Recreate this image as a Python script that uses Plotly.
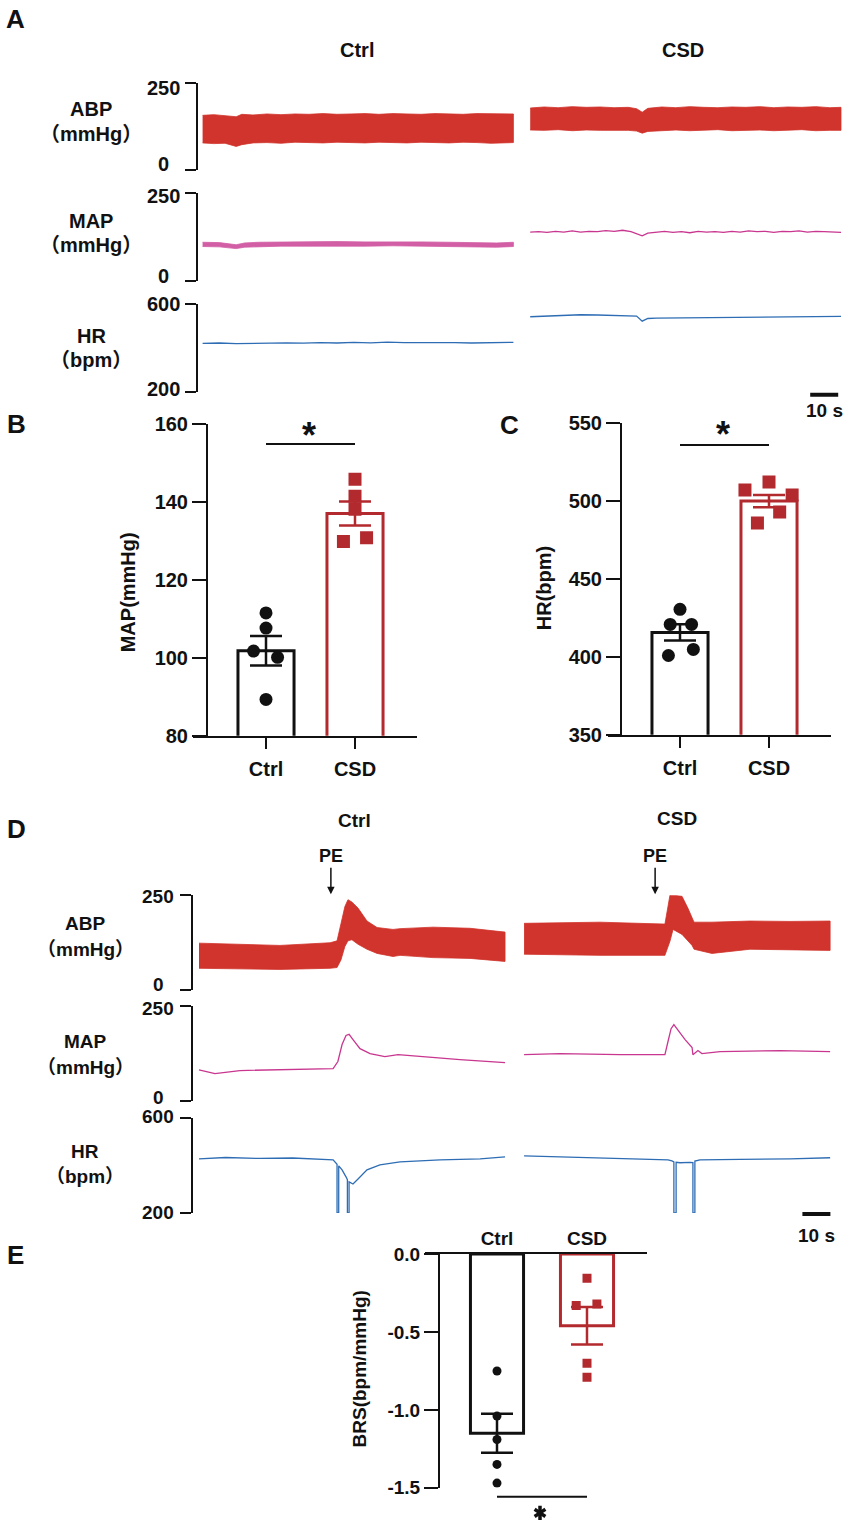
import plotly.graph_objects as go

# ---------------- data ----------------
# Panel A: resting recordings. Time in s, ABP / MAP in mmHg, HR in bpm.
# ABP is drawn as the envelope (systolic / diastolic) of the pulsatile trace.
A_ABP_CTRL_T = [2, 6, 10, 14, 16, 20, 25, 30, 35, 40, 45, 50, 55, 60, 65, 70, 75, 80, 85, 90, 95, 100, 105, 110, 113]
A_ABP_CTRL_HI = [157, 159, 156, 153, 160, 158, 161, 159, 161, 160, 162, 160, 161, 162, 160, 162, 161, 160, 162, 161, 160, 162, 161, 160, 161]
A_ABP_CTRL_LO = [78, 76, 77, 68, 73, 78, 79, 77, 80, 79, 78, 80, 79, 78, 80, 79, 78, 80, 79, 78, 80, 79, 77, 78, 79]
A_ABP_CSD_T = [119, 124, 129, 134, 139, 144, 149, 154, 157, 159, 161, 166, 171, 176, 181, 186, 191, 196, 201, 206, 211, 216, 221, 226, 230]
A_ABP_CSD_HI = [178, 181, 179, 182, 180, 181, 179, 180, 176, 166, 177, 181, 179, 182, 180, 179, 181, 180, 182, 179, 181, 180, 182, 179, 180]
A_ABP_CSD_LO = [115, 114, 116, 113, 115, 114, 113, 114, 112, 106, 111, 114, 115, 113, 114, 116, 113, 114, 115, 113, 114, 116, 113, 114, 114]

A_MAP_CTRL_T = [2, 8, 14, 17, 22, 30, 40, 50, 60, 70, 80, 90, 100, 107, 113]
A_MAP_CTRL_HI = [111, 110, 104, 109, 111, 112, 112, 113, 112, 113, 112, 111, 110, 109, 111]
A_MAP_CTRL_LO = [99, 98, 93, 97, 99, 100, 100, 101, 100, 101, 100, 99, 98, 97, 99]
A_MAP_CSD_T = [119, 122, 125, 128, 131, 134, 137, 140, 143, 146, 149, 152, 155, 157, 159,
               161, 164, 167, 170, 173, 176, 179, 182, 185, 188, 191, 194, 197, 200, 203,
               206, 209, 212, 215, 218, 221, 224, 227, 230]
A_MAP_CSD = [140, 141, 139, 142, 140, 143, 140, 142, 141, 144, 142, 145, 141, 136, 129,
             137, 140, 142, 139, 141, 138, 142, 140, 141, 139, 142, 140, 143, 141, 142,
             139, 142, 141, 143, 140, 142, 141, 140, 139]

A_HR_CTRL_T = [2, 8, 14, 20, 26, 32, 38, 44, 50, 56, 62, 68, 74, 80, 86, 92, 98, 104, 110, 113]
A_HR_CTRL = [419, 421, 418, 420, 419, 422, 420, 423, 421, 424, 422, 425, 423, 424, 422, 423, 421, 422, 423, 424]
A_HR_CSD_T = [119, 125, 131, 137, 143, 149, 154, 157, 159, 161, 164, 170, 176, 182, 188,
              194, 200, 206, 212, 218, 224, 230]
A_HR_CSD = [540, 544, 548, 549, 548, 547, 546, 543, 520, 532, 534, 535, 536, 537, 538,
            538, 539, 540, 541, 541, 542, 542]

# Panel D: phenylephrine (PE) challenge
D_PE_T = [49.6, 165.4]
D_ABP_CTRL_T = [2.5, 31.4, 49.3, 51.8, 53.2, 54.6, 55.7, 57.1, 59.3, 62.5, 66.1, 71.8, 74.3, 86.1, 99.3, 111.8]
D_ABP_CTRL_HI = [124, 118, 125, 130, 175, 220, 238, 232, 216, 182, 165, 160, 162, 166, 163, 153]
D_ABP_CTRL_LO = [58, 55, 58, 60, 80, 115, 130, 133, 121, 108, 97, 89, 92, 86, 84, 76]
D_ABP_CSD_T = [118.6, 145.7, 168.9, 170.7, 171.8, 175.0, 177.1, 178.6, 179.3, 185.7, 199.3, 213.6, 227.9]
D_ABP_CSD_HI = [176, 179, 174, 250, 250, 247, 216, 189, 179, 179, 182, 181, 182]
D_ABP_CSD_LO = [95, 92, 92, 129, 160, 147, 129, 118, 108, 97, 108, 106, 105]

D_MAP_CTRL_T = [2.5, 8.2, 17.1, 28.0, 38.6, 50.4, 52.1, 53.6, 55.0, 56.1, 57.5, 60.0, 63.6,
                68.9, 73.6, 81.4, 95.7, 111.8]
D_MAP_CTRL = [82, 72, 80, 81, 82, 85, 104, 149, 173, 176, 162, 138, 125, 117, 122, 117, 109, 101]
D_MAP_CSD_T = [118.6, 131.4, 152.9, 168.9, 170.0, 171.1, 172.1, 173.2, 176.1, 178.6, 178.9,
               180.7, 182.1, 188.6, 210.0, 227.9]
D_MAP_CSD = [122, 125, 122, 122, 157, 191, 202, 191, 162, 141, 122, 133, 125, 130, 133, 130]

D_HR_CTRL_T = [2.5, 12.0, 24.3, 36.0, 50.4, 51.4, 51.8, 51.8, 52.4, 52.4, 53.6, 55.0, 55.5,
               55.5, 56.1, 56.1, 57.5, 59.3, 62.5, 67.1, 74.3, 88.6, 102.9, 111.8]
D_HR_CTRL = [427, 433, 429, 431, 423, 410, 405, 200, 200, 398, 381, 352, 340,
             200, 200, 331, 322, 343, 381, 402, 415, 423, 427, 436]
D_HR_CSD_T = [118.6, 131.4, 145.7, 160.0, 170.0, 171.4, 172.1, 172.1, 172.9, 172.9, 174.3,
              177.9, 178.9, 178.9, 179.6, 179.6, 181.4, 195.7, 213.6, 227.9]
D_HR_CSD = [440, 436, 432, 425, 423, 419, 415, 200, 200, 413, 411, 413, 412, 200, 200,
            418, 423, 425, 427, 432]

# Panels B, C, E: mean, SEM and individual animals
GROUPS = ["Ctrl", "CSD"]
B_MAP_MEAN = [101.8, 137.0]
B_MAP_SEM = [3.8, 3.05]
B_MAP_CTRL = [111.5, 107.6, 101.7, 100.1, 89.3]
B_MAP_CSD = [145.8, 141.4, 138.1, 129.8, 130.8]
C_HR_MEAN = [415.6, 499.8]
C_HR_SEM = [5.2, 3.9]
C_HR_CTRL = [430.4, 420.7, 420.7, 400.8, 404.7]
C_HR_CSD = [506.9, 512.0, 503.7, 492.8, 485.7]
E_BRS_MEAN = [-1.15, -0.46]
E_BRS_SEM = [0.125, 0.12]
E_BRS_CTRL = [-0.75, -1.04, -1.19, -1.35, -1.47]
E_BRS_CSD = [-0.155, -0.33, -0.32, -0.70, -0.79]

# horizontal scatter of the dots (fraction of category spacing)
B_DX = [[0, 0, -0.14, 0.13, 0], [0, 0, 0, -0.13, 0.13]]
C_DX = [[0, -0.11, 0.13, -0.13, 0.15], [-0.27, 0, 0.26, 0.12, -0.13]]
E_DX = [[0, 0, 0, 0, 0], [0, -0.12, 0.11, 0, 0]]

# ---------------- style ----------------
W, H = 851, 1540
RED = "#D0342C"
DARKRED = "#B2292E"
PINK = "#C8368F"
BLUE = "#2E6DB4"
BLACK = "#111111"
FONT = "Liberation Sans, Arial, Noto Sans CJK SC, sans-serif"
NARROW = "Liberation Sans Narrow, Arial Narrow, Liberation Sans, sans-serif"
PX_PER_S = 2.8
RIGHT = 845
# the photographed page comes out slightly squeezed vertically; positions below are
# measured on the reference and mapped back to figure pixels
Y_OFF, Y_SCALE = 12.3, 0.983


def xp(x):
    return x / W


def yp(y):
    return 1 - ((y - Y_OFF) / Y_SCALE) / H


def ref(n):
    return ("x", "y") if n == 1 else (f"x{n}", f"y{n}")


def key(n):
    return ("xaxis", "yaxis") if n == 1 else (f"xaxis{n}", f"yaxis{n}")


fig = go.Figure()
layout = {}
annotations = []
shapes = []


def text(x, y, s, size, family=FONT, angle=0, xref="paper", yref="paper", yshift=0):
    annotations.append(dict(x=x, y=y, xref=xref, yref=yref, text=s, showarrow=False,
                            textangle=angle, xanchor="center", yanchor="middle", yshift=yshift,
                            font=dict(family=family, size=size, color=BLACK, weight="bold")))


def trace_row(n, x0, top, bottom, rng, size, label_x, shifts):
    kx, ky = key(n)
    rx, ry = ref(n)
    layout[kx] = dict(domain=[xp(x0), xp(RIGHT)], range=[0, (RIGHT - x0) / PX_PER_S],
                      visible=False, anchor=ry)
    layout[ky] = dict(domain=[yp(bottom), yp(top)], range=rng, anchor="free", position=xp(x0),
                      showline=True, linecolor=BLACK, linewidth=2, ticks="outside", ticklen=11,
                      tickwidth=2, tickcolor=BLACK, tickvals=rng, showticklabels=False,
                      showgrid=False, zeroline=False)
    # tick labels are centred on a common column, nudged inward like the original
    for v, sh in zip(rng, shifts):
        text(xp(label_x), v, str(v), size, yref=ry, yshift=sh)


def band(n, t, hi, lo, color, opacity=1.0):
    rx, ry = ref(n)
    fig.add_trace(go.Scatter(x=t + t[::-1], y=hi + lo[::-1], fill="toself", fillcolor=color,
                             opacity=opacity, line=dict(color=color, width=0.8), mode="lines",
                             xaxis=rx, yaxis=ry, hoverinfo="skip"))


def line(n, t, v, color, width=1.3):
    rx, ry = ref(n)
    fig.add_trace(go.Scatter(x=t, y=v, mode="lines", line=dict(color=color, width=width),
                             xaxis=rx, yaxis=ry, hoverinfo="skip"))


# ---- Panel A ----
trace_row(1, 197, 84, 171, [0, 250], 20, 163, [6, -5])
trace_row(2, 197, 194, 282, [0, 250], 20, 163, [5, -3])
trace_row(3, 197, 304, 392, [200, 600], 20, 163, [3, 0])
band(1, A_ABP_CTRL_T, A_ABP_CTRL_HI, A_ABP_CTRL_LO, RED)
band(1, A_ABP_CSD_T, A_ABP_CSD_HI, A_ABP_CSD_LO, RED)
band(2, A_MAP_CTRL_T, A_MAP_CTRL_HI, A_MAP_CTRL_LO, PINK, 0.8)
line(2, A_MAP_CSD_T, A_MAP_CSD, PINK)
line(3, A_HR_CTRL_T, A_HR_CTRL, BLUE)
line(3, A_HR_CSD_T, A_HR_CSD, BLUE)

# ---- Panel D ----
trace_row(4, 192, 894, 989, [0, 250], 19, 158, [6, -1])
trace_row(5, 192, 1005, 1099, [0, 250], 19, 158, [3, -2])
trace_row(6, 192, 1116, 1211, [200, 600], 19, 158, [1, 1])
band(4, D_ABP_CTRL_T, D_ABP_CTRL_HI, D_ABP_CTRL_LO, RED)
band(4, D_ABP_CSD_T, D_ABP_CSD_HI, D_ABP_CSD_LO, RED)
line(5, D_MAP_CTRL_T, D_MAP_CTRL, PINK)
line(5, D_MAP_CSD_T, D_MAP_CSD, PINK)
line(6, D_HR_CTRL_T, D_HR_CTRL, BLUE)
line(6, D_HR_CSD_T, D_HR_CSD, BLUE)


# ---- bar panels ----
def bar_panel(n, xdom, yaxis_x, top, bottom, rng, tickvals, means, sems, ctrl, csd, dx,
              ticktext=None, side="bottom", msize=13, ebw=16, barw=0.63, size=20):
    kx, ky = key(n)
    rx, ry = ref(n)
    layout[kx] = dict(domain=[xp(xdom[0]), xp(xdom[1])], range=[-xdom[2], xdom[3]],
                      anchor=ry, side=side, showline=True, linecolor=BLACK, linewidth=2,
                      ticks="outside" if side == "bottom" else "", ticklen=11, tickwidth=2,
                      tickcolor=BLACK, tickvals=[0, 1], ticktext=GROUPS, showgrid=False,
                      zeroline=False, ticklabelstandoff=3 if side == "bottom" else 0,
                      tickfont=dict(family=FONT, size=size, color=BLACK, weight="bold"))
    layout[ky] = dict(domain=[yp(bottom), yp(top)], range=rng, anchor="free",
                      position=xp(yaxis_x), showline=True, linecolor=BLACK, linewidth=2,
                      ticks="outside", ticklen=14, tickwidth=2, tickcolor=BLACK,
                      tickvals=tickvals, ticktext=ticktext, showgrid=False, zeroline=False,
                      tickfont=dict(family=FONT, size=size, color=BLACK, weight="bold"))
    colors = [BLACK, DARKRED]
    for i, col in enumerate(colors):
        fig.add_trace(go.Bar(x=[i], y=[means[i]], width=barw, xaxis=rx, yaxis=ry,
                             marker=dict(color="white", line=dict(color=col, width=3)),
                             error_y=dict(type="data", array=[sems[i]], color=col,
                                          thickness=2.5, width=ebw),
                             hoverinfo="skip"))
    fig.add_trace(go.Scatter(x=list(dx[0]), y=ctrl, mode="markers", xaxis=rx, yaxis=ry,
                             marker=dict(symbol="circle", size=msize, color=BLACK),
                             hoverinfo="skip"))
    fig.add_trace(go.Scatter(x=[1 + d for d in dx[1]], y=csd, mode="markers", xaxis=rx,
                             yaxis=ry, marker=dict(symbol="square", size=msize, color=DARKRED),
                             hoverinfo="skip"))


# B: Ctrl at x=266, CSD at 355 (89 px apart)
bar_panel(7, [193, 417, (266 - 193) / 89, 1 + (417 - 355) / 89], 207, 424, 735, [80, 160],
          [80, 100, 120, 140, 160], B_MAP_MEAN, B_MAP_SEM, B_MAP_CTRL, B_MAP_CSD, B_DX)
# C: Ctrl at x=680, CSD at 769
bar_panel(8, [608, 831, (680 - 608) / 89, 1 + (831 - 769) / 89], 621, 423, 734, [350, 550],
          [350, 400, 450, 500, 550], C_HR_MEAN, C_HR_SEM, C_HR_CTRL, C_HR_CSD, C_DX)
# E: Ctrl at x=497, CSD at 587
bar_panel(9, [425, 647, (497 - 425) / 90, 1 + (647 - 587) / 90], 439, 1252, 1485, [-1.5, 0],
          [-1.5, -1.0, -0.5, 0.0], E_BRS_MEAN, E_BRS_SEM, E_BRS_CTRL, E_BRS_CSD, E_DX,
          ticktext=["-1.5", "-1.0", "-0.5", "0.0"], side="top", msize=9, barw=0.59, size=19)

# ---- labels ----
for s, x, y in [("A", 15, 20), ("B", 16, 424), ("C", 510, 425), ("D", 16, 828), ("E", 15, 1253)]:
    text(xp(x), yp(y), s, 26)
for s, x, y in [("Ctrl", 357, 51), ("CSD", 683, 51)]:
    text(xp(x), yp(y), s, 20)
for s, x, y in [("Ctrl", 354, 820), ("CSD", 677, 818)]:
    text(xp(x), yp(y), s, 19)
row_labels = [("ABP", "（mmHg）", 91, 110, 135, 20), ("MAP", "（mmHg）", 91, 222, 246, 20),
              ("HR", "（bpm）", 91, 336, 360, 20), ("ABP", "（mmHg）", 85, 922, 948, 19),
              ("MAP", "（mmHg）", 85, 1040, 1066, 19), ("HR", "（bpm）", 85, 1150, 1175, 19)]
for a, b, x, y1, y2, size in row_labels:
    text(xp(x), yp(y1), a, size)
    text(xp(x), yp(y2), b, size)
text(xp(128), yp(592), "MAP(mmHg)", 20, angle=-90)
text(xp(544), yp(588), "HR(bpm)", 20, angle=-90)
text(xp(359), yp(1367), "BRS(bpm/mmHg)", 19, angle=-90)

# PE arrows
for t in D_PE_T:
    annotations.append(dict(x=t, y=yp(893), xref="x4", yref="paper", text="", showarrow=True,
                            ax=0, ay=-28, arrowhead=2, arrowsize=1, arrowwidth=1.5,
                            arrowcolor=BLACK))
    text(t, yp(855), "PE", 18, family=NARROW, xref="x4")

# significance bars (asterisk glyph sits ~7 px above its text box centre)
for rx, y_line, y_star in [("x7", 444, 436), ("x8", 445, 435)]:
    shapes.append(dict(type="line", xref=rx, yref="paper", x0=0, x1=1, y0=yp(y_line),
                       y1=yp(y_line), line=dict(color=BLACK, width=2)))
    annotations.append(dict(x=0.48, y=yp(y_star), xref=rx, yref="paper", text="*",
                            showarrow=False, xanchor="center", yanchor="middle",
                            font=dict(family=FONT, size=36, color=BLACK, weight="bold")))
# panel E: the asterisk sits on the bottom edge of the page, so it is drawn as a
# six-armed marker on a full-page overlay axis instead of a text glyph
shapes.append(dict(type="line", xref="x9", yref="paper", x0=0, x1=1, y0=yp(1494),
                   y1=yp(1494), line=dict(color=BLACK, width=2)))
layout["xaxis10"] = dict(domain=[0, 1], range=[0, 1], visible=False, anchor="y10")
layout["yaxis10"] = dict(domain=[0, 1], range=[0, 1], visible=False, anchor="x10")
for sym in ["y-up-open", "y-down-open"]:
    fig.add_trace(go.Scatter(x=[xp(540)], y=[yp(1510)], mode="markers", xaxis="x10",
                             yaxis="y10", hoverinfo="skip",
                             marker=dict(symbol=sym, size=9, color=BLACK,
                                         line=dict(color=BLACK, width=3.5))))

# 10 s scale bars
for rx, y_bar, y_txt, t0 in [("x3", 395, 411, 219), ("x6", 1212, 1233, 218)]:
    shapes.append(dict(type="line", xref=rx, yref="paper", x0=t0, x1=t0 + 10, y0=yp(y_bar),
                       y1=yp(y_bar), line=dict(color=BLACK, width=4)))
    text(t0 + 5, yp(y_txt), "10 s", 19, xref=rx)

fig.update_layout(**layout)
fig.update_layout(width=W, height=H, margin=dict(l=0, r=0, t=0, b=0),
                  paper_bgcolor="white", plot_bgcolor="rgba(0,0,0,0)", showlegend=False,
                  barmode="overlay", annotations=annotations, shapes=shapes,
                  font=dict(family=FONT, color=BLACK))
fig.write_html("out.html", config={"displayModeBar": False},
               post_script="document.body.style.margin='0';")
